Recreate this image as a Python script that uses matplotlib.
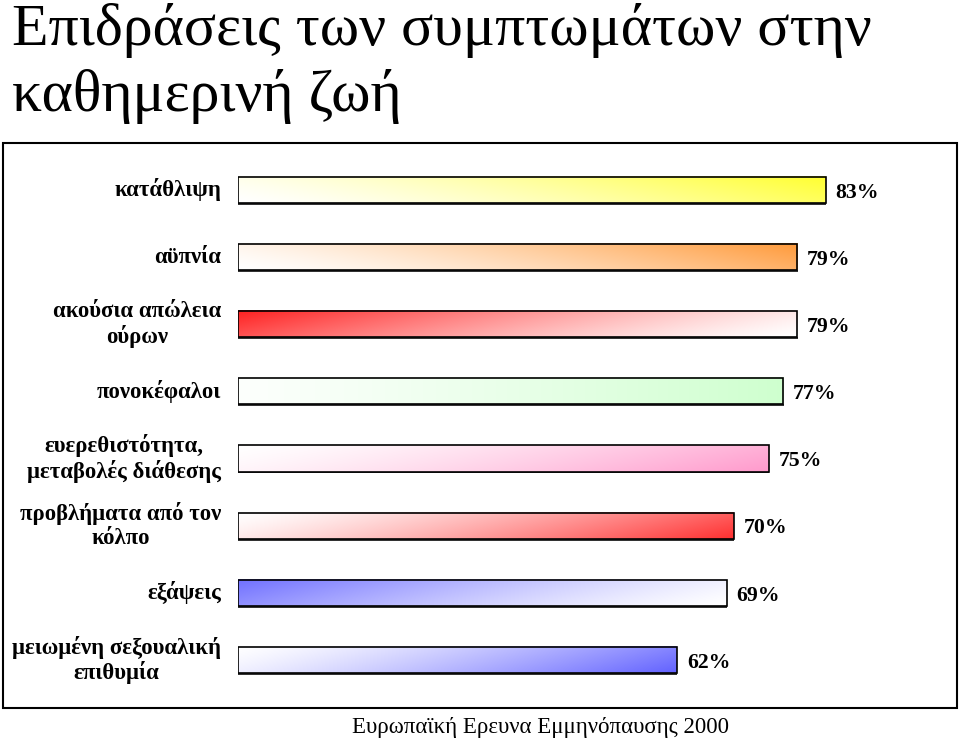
import numpy as np
import matplotlib
matplotlib.use("Agg")
import matplotlib.pyplot as plt
from matplotlib.patches import Rectangle
from matplotlib.colors import to_rgb

# données
labels = ["κατάθλιψη", "αϋπνία", "ακούσια απώλεια\nούρων", "πονοκέφαλοι",
          "ευερεθιστότητα,\nμεταβολές διάθεσης", "προβλήματα από τον\nκόλπο",
          "εξάψεις", "μειωμένη σεξουαλική\nεπιθυμία"]
valeurs = [83, 79, 79, 77, 75, 70, 69, 62]
couleurs = ["#FFFF30", "#FF9A3A", "#FF2020", "#C8FFC8",
            "#FF9ACC", "#FF3030", "#7070FF", "#6262FF"]
# sens du dégradé : (côté coloré horizontal, côté coloré vertical)
sens = [("right", "top"), ("right", "top"), ("left", "top"), ("right", "mid"),
        ("right", "bottom"), ("right", "bottom"), ("left", "top"), ("right", "bottom")]

titre = "Επιδράσεις των συμπτωμάτων στην\nκαθημερινή ζωή"
source = "Ευρωπαϊκή Ερευνα Εμμηνόπαυσης 2000"

W, H = 960, 741
fig = plt.figure(figsize=(W / 100, H / 100), dpi=100)
serif = ["Liberation Serif", "DejaVu Serif"]

# cadre
fig.patches.append(Rectangle((3 / W, 1 - 708 / H), 954 / W, 565 / H,
                             transform=fig.transFigure, fill=False,
                             edgecolor="black", lw=1.5))

pas = 67.14
haut_ax = 149.7
ax = fig.add_axes([238 / W, 1 - (haut_ax + 8.2 * pas) / H, 708 / W, 8.2 * pas / H])
ax.set_axis_off()

h = 0.39
dx, dy = 1.6 / 7.08, 1.8 / pas  # ombre en unités de données
for i, (v, c, (sx, sy)) in enumerate(zip(valeurs, couleurs, sens)):
    u = np.linspace(0, 1, 300)[None, :]
    w = np.linspace(0, 1, 30)[:, None]  # 0 en haut, 1 en bas
    tu = u if sx == "right" else 1 - u
    if sy == "top":
        tv = 1 - w
    elif sy == "bottom":
        tv = w
    else:
        tv = 0.5 + 0 * w
    t = np.clip(0.82 * tu + 0.18 * tv, 0, 1) ** 1.3
    c1 = np.array(to_rgb(c))
    img = (1 - t)[..., None] * np.ones(3) + t[..., None] * c1
    # ombre
    ax.add_patch(Rectangle((dx * 0.3, i - h / 2 + dy), v, h, facecolor="#333333",
                           edgecolor="none", zorder=1))
    ax.imshow(img, extent=(0, v, i + h / 2, i - h / 2), aspect="auto",
              interpolation="bilinear", zorder=2)
    ax.add_patch(Rectangle((0, i - h / 2), v, h, fill=False, edgecolor="black",
                           lw=1.2, zorder=3))
    ax.text(v + 1.4, i + 0.04, f"{v}%", ha="left", va="center", fontsize=15.7,
            fontweight="bold", family=serif, zorder=4)
    ax.text(-2.4, i, labels[i], ha="right", va="center", multialignment="center",
            fontsize=16.4, fontweight="bold", family=serif, linespacing=1.15)

ax.set_xlim(0, 100)
ax.set_ylim(7.6, -0.6)

fig.text(12 / W, 1 - 3 / H, titre, ha="left", va="top", fontsize=43,
         family=serif, linespacing=1.27)
fig.text(540 / W, 1 - 727 / H, source, ha="center", va="center", fontsize=16.5,
         family=serif)

fig.savefig("out.png", dpi=100)
